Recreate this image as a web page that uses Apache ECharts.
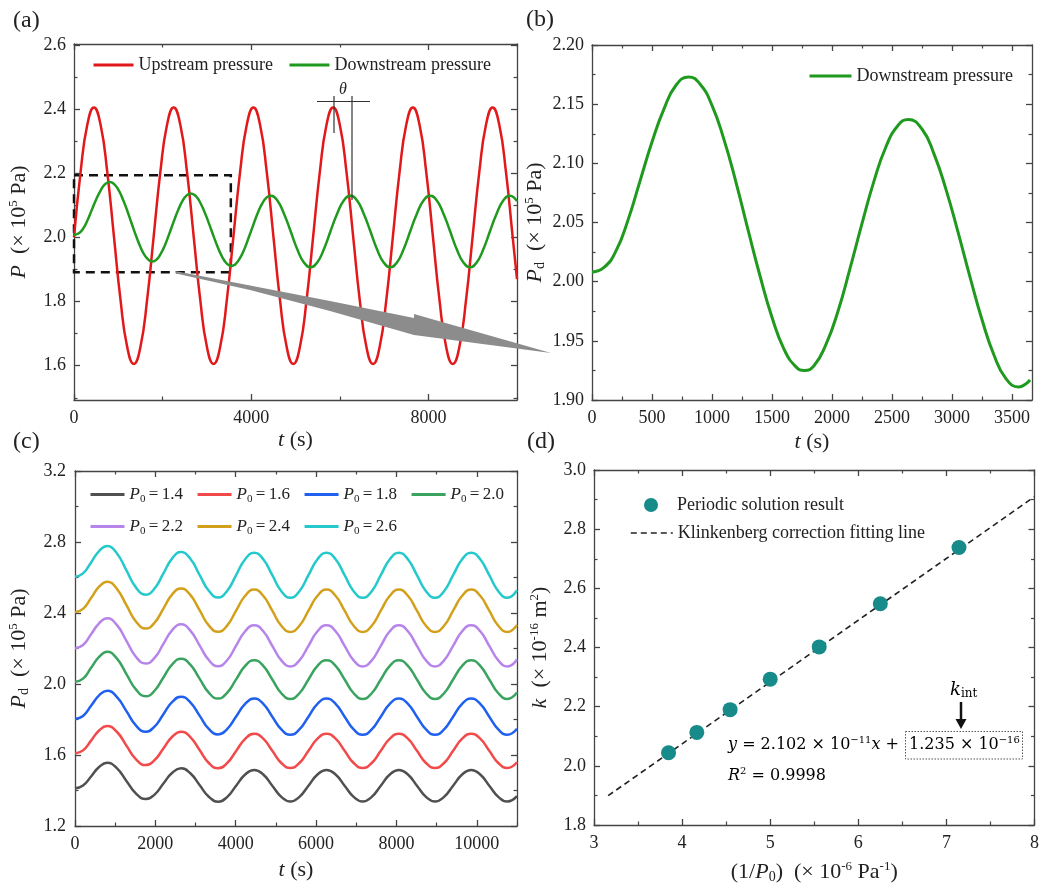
<!DOCTYPE html>
<html>
<head>
<meta charset="utf-8">
<script src="https://cdn.jsdelivr.net/npm/echarts@6/dist/echarts.min.js"></script>
<style>
html,body{margin:0;padding:0;background:#fff;}
#chart{width:1042px;height:886px;}
</style>
</head>
<body>
<div id="chart"></div>
<script>
// ---------------- DATA ----------------
// (a) upstream pressure (x 1e5 Pa) vs t (s)
const upT = [0,150,300,450,600,750,900,1050,1200,1350,1500,1650,1800,1950,2100,2250,2400,2550,2700,2850,3000,3150,3300,3450,3600,3750,3900,4050,4200,4350,4500,4650,4800,4950,5100,5250,5400,5550,5700,5850,6000,6150,6300,6450,6600,6750,6900,7050,7200,7350,7500,7650,7800,7950,8100,8250,8400,8550,8700,8850,9000,9150,9300,9450,9600,9750,9900,10000];
const upP = [2.000,2.205,2.351,2.405,2.351,2.205,2.005,1.805,1.659,1.605,1.659,1.805,
             2.005,2.205,2.351,2.405,2.351,2.205,2.005,1.805,1.659,1.605,1.659,1.805,
             2.005,2.205,2.351,2.405,2.351,2.205,2.005,1.805,1.659,1.605,1.659,1.805,
             2.005,2.205,2.351,2.405,2.351,2.205,2.005,1.805,1.659,1.605,1.659,1.805,
             2.005,2.205,2.351,2.405,2.351,2.205,2.005,1.805,1.659,1.605,1.659,1.805,
             2.005,2.205,2.351,2.405,2.351,2.205,2.005,1.870];
// (a)/(b) downstream pressure
const downT = [0,100,200,300,400,500,600,700,806,900,1000,1100,1200,1300,1400,1500,1600,1700,1770,1850,1950,2050,2150,2250,2350,2450,2550,2636,2750,2850,2950,3050,3150,3250,3350,3450,3557,3620,3650,3750,3850,3950,4050,4150,4250,4350,4440,4590,4740,4890,5040,5190,5340,5490,5640,5790,5940,6090,6240,6390,6540,6690,6840,6990,7140,7290,7440,7590,7740,7890,8040,8190,8340,8490,8640,8790,8940,9090,9240,9390,9540,9690,9840,10000];
const downP = [2.008,2.012,2.026,2.052,2.085,2.118,2.146,2.166,2.173,
               2.167,2.149,2.120,2.084,2.044,2.005,1.970,1.943,1.928,1.925,
               1.929,1.947,1.975,2.011,2.049,2.085,2.114,2.132,2.137,
               2.129,2.108,2.078,2.042,2.004,1.968,1.938,1.918,1.911,1.914,1.917,
               1.936,1.965,2.002,2.040,2.077,2.106,2.125,2.130,
               2.115,2.074,2.019,1.963,1.922,1.907,
               1.922,1.963,2.019,2.074,2.115,2.130,
               2.115,2.074,2.019,1.963,1.922,1.907,
               1.922,1.963,2.019,2.074,2.115,2.130,
               2.115,2.074,2.019,1.963,1.922,1.907,
               1.922,1.963,2.019,2.074,2.115,2.130,
               2.113];
const bTmax = 3650;
// (c) downstream pressure for different P0
const cT = [0,200,400,600,800,1040,1280,1520,1760,1980,2200,2420,2640,2870,3100,3330,3560,3785,4010,4235,4460,4685,4910,5135,5360,5585,5810,6035,6260,6485,6710,6935,7160,7385,7610,7835,8060,8285,8510,8735,8960,9185,9410,9635,9860,10085,10310,10535,10760,11000];
const cP14 = [1.412,1.428,1.479,1.532,1.556, 1.526,1.454,1.382,1.352, 1.377,1.439,1.500,1.525, 1.497,1.431,1.365,1.337, 1.363,1.427,1.490,1.516, 1.490,1.427,1.364,1.338, 1.364,1.427,1.490,1.516, 1.490,1.427,1.364,1.338, 1.364,1.427,1.490,1.516, 1.490,1.427,1.364,1.338, 1.364,1.427,1.490,1.516, 1.490,1.427,1.364,1.338, 1.368];
const cP16 = [1.609,1.626,1.681,1.738,1.763, 1.731,1.653,1.575,1.543, 1.571,1.637,1.703,1.731, 1.701,1.628,1.555,1.525, 1.554,1.623,1.691,1.720, 1.692,1.624,1.555,1.527, 1.555,1.624,1.692,1.720, 1.692,1.624,1.555,1.527, 1.555,1.624,1.692,1.720, 1.692,1.624,1.555,1.527, 1.555,1.624,1.692,1.720, 1.692,1.624,1.555,1.527, 1.559];
const cP18 = [1.803,1.820,1.877,1.936,1.962, 1.928,1.847,1.765,1.731, 1.760,1.830,1.899,1.928, 1.897,1.822,1.747,1.716, 1.746,1.817,1.888,1.918, 1.888,1.816,1.744,1.714, 1.744,1.816,1.888,1.918, 1.888,1.816,1.744,1.714, 1.744,1.816,1.888,1.918, 1.888,1.816,1.744,1.714, 1.744,1.816,1.888,1.918, 1.888,1.816,1.744,1.714, 1.748];
const cP20 = [2.012,2.030,2.091,2.153,2.181, 2.144,2.056,1.968,1.931, 1.962,2.037,2.111,2.142, 2.109,2.030,1.951,1.918, 1.950,2.026,2.102,2.134, 2.102,2.025,1.948,1.916, 1.948,2.025,2.102,2.134, 2.102,2.025,1.948,1.916, 1.948,2.025,2.102,2.134, 2.102,2.025,1.948,1.916, 1.948,2.025,2.102,2.134, 2.102,2.025,1.948,1.916, 1.952];
const cP22 = [2.202,2.220,2.280,2.342,2.370, 2.333,2.243,2.152,2.115, 2.147,2.226,2.304,2.336, 2.301,2.218,2.135,2.100, 2.134,2.216,2.297,2.331, 2.297,2.215,2.133,2.099, 2.133,2.215,2.297,2.331, 2.297,2.215,2.133,2.099, 2.133,2.215,2.297,2.331, 2.297,2.215,2.133,2.099, 2.133,2.215,2.297,2.331, 2.297,2.215,2.133,2.099, 2.138];
const cP24 = [2.404,2.423,2.484,2.548,2.576, 2.537,2.444,2.351,2.312, 2.345,2.425,2.505,2.538, 2.502,2.416,2.330,2.294, 2.329,2.413,2.497,2.532, 2.497,2.413,2.328,2.293, 2.328,2.413,2.497,2.532, 2.497,2.413,2.328,2.293, 2.328,2.413,2.497,2.532, 2.497,2.413,2.328,2.293, 2.328,2.413,2.497,2.532, 2.497,2.413,2.328,2.293, 2.333];
const cP26 = [2.604,2.623,2.685,2.749,2.777, 2.737,2.640,2.543,2.503, 2.538,2.623,2.708,2.743, 2.706,2.615,2.525,2.487, 2.524,2.614,2.703,2.740, 2.703,2.613,2.523,2.486, 2.523,2.613,2.703,2.740, 2.703,2.613,2.523,2.486, 2.523,2.613,2.703,2.740, 2.703,2.613,2.523,2.486, 2.523,2.613,2.703,2.740, 2.703,2.613,2.523,2.486, 2.528];
const cP0Labels = ['1.4','1.6','1.8','2.0','2.2','2.4','2.6'];
// (d) permeability vs 1/P0
const invP0 = [3.846,4.167,4.545,5.000,5.556,6.250,7.143];
const kPerm = [2.044,2.113,2.190,2.293,2.402,2.548,2.738];
const fitX = [3.16, 8.0];
const fitY = [1.899, 2.910];
// annotation box in (a): t range and pressure range
const boxT = [0, 3540];
const boxP = [1.891, 2.194];

// tick values
const aXMajor=[0,4000,8000], aXMinor=[2000,6000,10000];
const aYMajor=[1.6,1.8,2.0,2.2,2.4,2.6], aYMinor=[1.5,1.7,1.9,2.1,2.3,2.5];
const bXMajor=[0,500,1000,1500,2000,2500,3000,3500], bXMinor=[250,750,1250,1750,2250,2750,3250];
const bYMajor=[1.90,1.95,2.00,2.05,2.10,2.15,2.20], bYMinor=[1.925,1.975,2.025,2.075,2.125,2.175];
const cXMajor=[0,2000,4000,6000,8000,10000], cXMinor=[1000,3000,5000,7000,9000,11000];
const cYMajor=[1.2,1.6,2.0,2.4,2.8,3.2], cYMinor=[1.4,1.8,2.2,2.6,3.0];
const dXMajor=[3,4,5,6,7,8], dXMinor=[3.5,4.5,5.5,6.5,7.5];
const dYMajor=[1.8,2.0,2.2,2.4,2.6,2.8,3.0], dYMinor=[1.9,2.1,2.3,2.5,2.7,2.9];

// ---------------- STYLE ----------------
const FONT = 'Liberation Serif';
const MATH = 'DejaVu Serif';
const TXT = '#222';
const AX = '#444';
const RED = '#e2191b', GREEN = '#1f9a1f', TEAL = '#178a8a';
const cColors = ['#505050','#f24a4a','#2060ee','#3aa360','#b784ea','#d3a01c','#25c9cc'];

const RICH = {
  i:{fontFamily:FONT,fontStyle:'italic',fontSize:22,color:TXT,lineHeight:24},
  n:{fontFamily:FONT,fontSize:22,color:TXT,lineHeight:24},
  sup:{fontFamily:FONT,fontSize:13,color:TXT,verticalAlign:'top',lineHeight:14},
  sub:{fontFamily:FONT,fontSize:14,color:TXT,verticalAlign:'bottom',lineHeight:14}
};

function axisSet(dim, gi, o){
  const sides = dim==='x' ? ['bottom','top'] : ['left','right'];
  const out = [];
  sides.forEach((side,k)=>{
    const main = k===0;
    out.push({
      type:'value', gridIndex:gi, position:side, min:o.min, max:o.max,
      splitLine:{show:false}, minorTick:{show:false},
      axisLine:{show:true,onZero:false,lineStyle:{color:AX,width:1.3}},
      axisTick:{show:true,inside:true,length:6,customValues:o.major,lineStyle:{color:AX,width:1.3}},
      axisLabel: main ? {show:true,customValues:o.major,formatter:o.fmt,margin:o.margin,
                         fontFamily:FONT,fontSize:18,color:TXT} : {show:false},
      name: main ? o.name : '',
      nameLocation:'middle', nameGap:o.nameGap,
      nameTextStyle:{rich:RICH,fontFamily:FONT,fontSize:22,color:TXT}
    });
    out.push({
      type:'value', gridIndex:gi, position:side, min:o.min, max:o.max,
      splitLine:{show:false}, minorTick:{show:false},
      axisLine:{show:false,onZero:false},
      axisTick:{show:true,inside:true,length:3.5,customValues:o.minor,lineStyle:{color:AX,width:1.2}},
      axisLabel:{show:false}
    });
  });
  return out;
}
const intFmt = v => String(Math.round(v));
const f1 = v => v.toFixed(1);
const f2 = v => v.toFixed(2);

const xAxes = [].concat(
  axisSet('x',0,{min:0,max:10000,major:aXMajor,minor:aXMinor,fmt:intFmt,margin:9,name:'{i|t}{n| (s)}',nameGap:28}),
  axisSet('x',1,{min:0,max:3667,major:bXMajor,minor:bXMinor,fmt:intFmt,margin:9,name:'{i|t}{n| (s)}',nameGap:30}),
  axisSet('x',2,{min:0,max:11000,major:cXMajor,minor:cXMinor,fmt:intFmt,margin:9,name:'{i|t}{n| (s)}',nameGap:32}),
  axisSet('x',3,{min:3,max:8,major:dXMajor,minor:dXMinor,fmt:intFmt,margin:9,name:'{n|(1/}{i|P}{sub|0}{n|)  (× 10}{sup|-6}{n| Pa}{sup|-1}{n|)}',nameGap:35})
);
const yAxes = [].concat(
  axisSet('y',0,{min:1.493,max:2.603,major:aYMajor,minor:aYMinor,fmt:f1,margin:8,name:'{i|P}{n|  (× 10}{sup|5}{n| Pa)}',nameGap:43}),
  axisSet('y',1,{min:1.90,max:2.20,major:bYMajor,minor:bYMinor,fmt:f2,margin:8,name:'{i|P}{sub|d}{n|  (× 10}{sup|5}{n| Pa)}',nameGap:45}),
  axisSet('y',2,{min:1.2,max:3.2,major:cYMajor,minor:cYMinor,fmt:f1,margin:9,name:'{i|P}{sub|d}{n|  (× 10}{sup|5}{n| Pa)}',nameGap:44}),
  axisSet('y',3,{min:1.8,max:3.0,major:dYMajor,minor:dYMinor,fmt:f1,margin:8,name:'{i|k}{n|  (× 10}{sup|-16}{n| m}{sup|2}{n|)}',nameGap:42})
);

const pairs = (xs, ys) => xs.map((x,i)=>[x, ys[i]]);

const series = [];
series.push({type:'line',name:'Upstream pressure',xAxisIndex:0,yAxisIndex:0,data:pairs(upT,upP),
  showSymbol:false,symbol:'none',smooth:true,lineStyle:{color:RED,width:2.5},itemStyle:{color:RED},z:3});
series.push({type:'line',name:'Downstream pressure',xAxisIndex:0,yAxisIndex:0,data:pairs(downT,downP),
  showSymbol:false,symbol:'none',smooth:true,lineStyle:{color:GREEN,width:2.5},itemStyle:{color:GREEN},z:3,
  markArea:{silent:true,label:{show:false},
    itemStyle:{color:'rgba(0,0,0,0)',borderColor:'#111',borderWidth:2.5,borderType:[9,6]},
    data:[[{coord:[boxT[0],boxP[1]]},{coord:[boxT[1],boxP[0]]}]]}});
series.push({type:'line',name:'Downstream pressure',xAxisIndex:4,yAxisIndex:4,
  data:pairs(downT,downP).filter(d=>d[0]<=bTmax),
  showSymbol:false,symbol:'none',smooth:true,lineStyle:{color:GREEN,width:3},itemStyle:{color:GREEN},z:3});
const cSets = [cP14,cP16,cP18,cP20,cP22,cP24,cP26];
cSets.forEach((arr,i)=>{
  series.push({type:'line',name:'P0 = '+cP0Labels[i],xAxisIndex:8,yAxisIndex:8,data:pairs(cT,arr),
    showSymbol:false,symbol:'none',smooth:true,lineStyle:{color:cColors[i],width:2.5},itemStyle:{color:cColors[i]},z:3});
});
series.push({type:'line',name:'Klinkenberg correction fitting line',xAxisIndex:12,yAxisIndex:12,data:pairs(fitX,fitY),
  showSymbol:false,symbol:'none',lineStyle:{color:'#222',width:1.6,type:[6,4]},itemStyle:{color:'#222'},z:3});
series.push({type:'scatter',name:'Periodic solution result',xAxisIndex:12,yAxisIndex:12,data:pairs(invP0,kPerm),
  symbol:'circle',symbolSize:15,itemStyle:{color:TEAL,opacity:1},z:4});

const legText = {fontFamily:FONT,fontSize:18,color:TXT};
const cLegRich = {
  i:{fontFamily:FONT,fontStyle:'italic',fontSize:17,color:TXT,lineHeight:20},
  n:{fontFamily:FONT,fontSize:17,color:TXT,lineHeight:20},
  sub:{fontFamily:FONT,fontSize:11,color:TXT,verticalAlign:'bottom',lineHeight:12}
};
const cFmt = name => '{i|P}{sub|0}{n|\u2009=\u2009' + name.split(' = ')[1] + '}';
const lineLeg = {padding:0,itemWidth:40,itemHeight:14,selectedMode:false,itemStyle:{opacity:0},lineStyle:{width:3},textStyle:legText};
const legends = [
  Object.assign({}, lineLeg, {left:92,top:56,itemGap:15,data:['Upstream pressure','Downstream pressure']}),
  Object.assign({}, lineLeg, {left:808,top:67,itemWidth:42,data:['Downstream pressure']}),
  Object.assign({}, lineLeg, {left:89,top:486,itemWidth:34,itemGap:13,data:['P0 = 1.4','P0 = 1.6','P0 = 1.8','P0 = 2.0'],formatter:cFmt,textStyle:Object.assign({rich:cLegRich},legText)}),
  Object.assign({}, lineLeg, {left:89,top:518,itemWidth:34,itemGap:13,data:['P0 = 2.2','P0 = 2.4','P0 = 2.6'],formatter:cFmt,textStyle:Object.assign({rich:cLegRich},legText)}),
  {padding:0,left:644,top:496,itemWidth:42,itemHeight:14,data:['Periodic solution result'],textStyle:legText,selectedMode:false},
  Object.assign({}, lineLeg, {left:630,top:524,itemWidth:42,lineStyle:{width:1.6},data:['Klinkenberg correction fitting line']})
];

const eqRich = {
  i:{fontFamily:MATH,fontStyle:'italic',fontSize:16,color:TXT,lineHeight:20},
  n:{fontFamily:MATH,fontSize:16,color:TXT,lineHeight:20},
  sup:{fontFamily:MATH,fontSize:10,color:TXT,verticalAlign:'top',lineHeight:12},
  sub:{fontFamily:MATH,fontSize:12,color:TXT,verticalAlign:'bottom',lineHeight:12}
};
const panelLabel = (t,x,y) => ({type:'text',x:x,y:y,z:10,style:{text:t,fontFamily:FONT,fontSize:24,fill:TXT,verticalAlign:'middle'}});
const graphics = [
  panelLabel('(a)',13,21), panelLabel('(b)',526,20), panelLabel('(c)',13,442), panelLabel('(d)',527,442),
  // theta marker
  {type:'line',z:10,shape:{x1:317,y1:101.5,x2:370,y2:101.5},style:{stroke:'#333',lineWidth:1.2}},
  {type:'line',z:10,shape:{x1:334,y1:96,x2:334,y2:133},style:{stroke:'#333',lineWidth:1.2}},
  {type:'line',z:10,shape:{x1:352,y1:96,x2:352,y2:200},style:{stroke:'#333',lineWidth:1.2}},
  {type:'text',z:10,x:339,y:90,style:{text:'θ',fontFamily:FONT,fontStyle:'italic',fontSize:16,fill:TXT,verticalAlign:'middle'}},
  // gray arrow
  {type:'polygon',z:20,shape:{points:[[175,271],[250,285.5],[330,301],[414,318],[414,314],[551,353],[414,335],[330,311],[250,290],[176,273.5]]},style:{fill:'#8c8c8c'}},
  // (d) annotations
  {type:'text',z:10,x:728,y:745,style:{text:'{i|y}{n| = 2.102 × 10}{sup|−11}{i|x}{n| +}',rich:eqRich,verticalAlign:'middle'}},
  {type:'rect',z:10,shape:{x:905.5,y:731.5,width:117,height:27.5},style:{fill:'none',stroke:'#555',lineWidth:1,lineDash:[1.5,1.5]}},
  {type:'text',z:10,x:909,y:745,style:{text:'{n|1.235 × 10}{sup|−16}',rich:eqRich,verticalAlign:'middle'}},
  {type:'text',z:10,x:728,y:776,style:{text:'{i|R}{sup|2}{n| = 0.9998}',rich:eqRich,verticalAlign:'middle'}},
  {type:'text',z:10,x:950,y:690,style:{text:'{i|k}{sub|int}',rich:{
      i:{fontFamily:MATH,fontStyle:'italic',fontSize:18,color:TXT,lineHeight:20},
      sub:{fontFamily:MATH,fontSize:12,color:TXT,verticalAlign:'bottom',lineHeight:12}},verticalAlign:'middle'}},
  {type:'line',z:10,shape:{x1:961,y1:702,x2:961,y2:721},style:{stroke:'#111',lineWidth:2.5}},
  {type:'polygon',z:10,shape:{points:[[955.5,719],[966.5,719],[961,729]]},style:{fill:'#111'}}
];

const chart = echarts.init(document.getElementById('chart'), null, {renderer:'canvas'});
chart.setOption({
  animation:false,
  backgroundColor:'#fff',
  grid:[
    {left:74,top:44,width:443,height:356},
    {left:592,top:45,width:440,height:355},
    {left:75,top:471,width:442,height:355},
    {left:594,top:470,width:442,height:355}
  ],
  xAxis:xAxes,
  yAxis:yAxes,
  legend:legends,
  series:series,
  graphic:graphics
});
</script>
</body>
</html>
